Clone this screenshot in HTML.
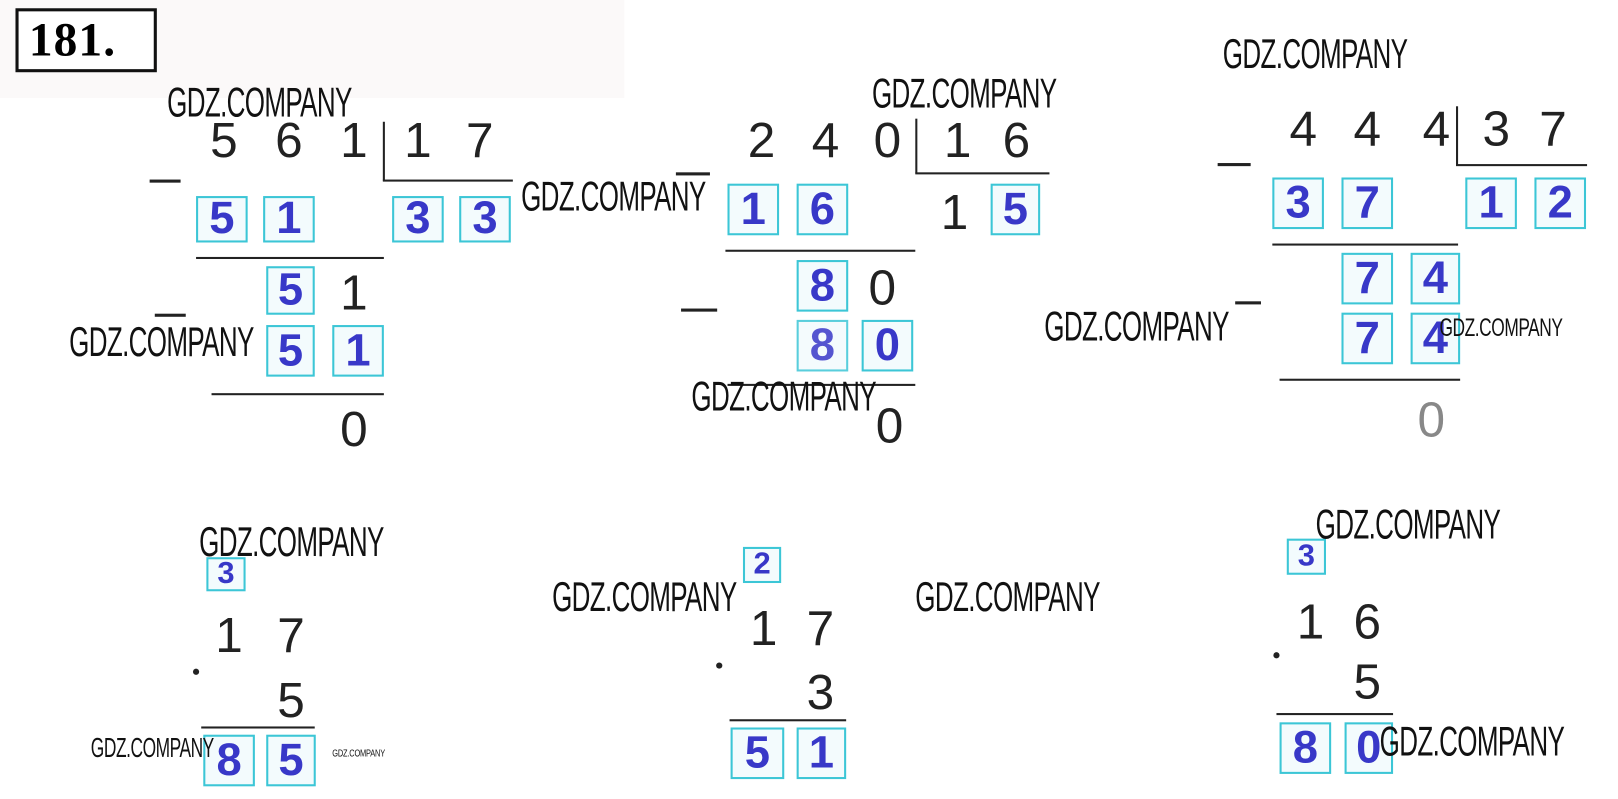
<!DOCTYPE html>
<html><head><meta charset="utf-8"><style>
html,body{margin:0;padding:0;background:#fff;overflow:hidden}
#w{position:absolute;left:0;top:0;width:1568px;height:774px;transform:scale(1.0319);transform-origin:0 0}
.a{position:absolute}
.d{position:absolute;font-family:"Liberation Sans",sans-serif;font-size:48px;color:#222;line-height:1;transform:translate(-50%,0)}
.b{position:absolute;box-sizing:border-box;border:2.5px solid #3cc6d6;background:#f3fbfd;font-family:"Liberation Sans",sans-serif;font-weight:bold;color:#3838c8;text-align:center}
.l{position:absolute;background:#222}
.g{position:absolute;font-family:"Liberation Sans",sans-serif;font-size:40px;color:#111;line-height:1;transform-origin:0 0;white-space:nowrap;letter-spacing:-1px}
</style></head><body><div id="w">
<div class="a" style="left:0;top:0;width:605px;height:95px;background:#fbf9f9"></div>
<div class="a" style="left:15px;top:8px;width:137px;height:62px;box-sizing:border-box;border:3px solid #111;background:#fff;font:bold 46px 'Liberation Serif',serif;line-height:56px;padding-left:10px;letter-spacing:1px">181.</div>

<!-- Division 1 -->
<div class="d" style="left:217px;top:113px">5</div><div class="d" style="left:280px;top:113px">6</div><div class="d" style="left:343px;top:113px">1</div>
<div class="l" style="left:371px;top:118px;width:2px;height:57px"></div><div class="l" style="left:371px;top:174px;width:126px;height:2px"></div>
<div class="d" style="left:405px;top:113px">1</div><div class="d" style="left:465px;top:113px">7</div>
<div class="l" style="left:145px;top:174px;width:30px;height:3px"></div>
<div class="b" style="left:190px;top:190px;width:50px;height:45px;font-size:44px;line-height:40px">5</div>
<div class="b" style="left:255px;top:190px;width:50px;height:45px;font-size:44px;line-height:40px">1</div>
<div class="b" style="left:380px;top:190px;width:50px;height:45px;font-size:44px;line-height:40px">3</div>
<div class="b" style="left:445px;top:190px;width:50px;height:45px;font-size:44px;line-height:40px">3</div>
<div class="l" style="left:190px;top:249px;width:182px;height:2px"></div>
<div class="b" style="left:258px;top:258px;width:47px;height:47px;font-size:44px;line-height:42px">5</div>
<div class="d" style="left:343px;top:261px">1</div>
<div class="l" style="left:150px;top:304px;width:30px;height:3px"></div>
<div class="b" style="left:258px;top:315px;width:47px;height:50px;font-size:44px;line-height:45px">5</div>
<div class="b" style="left:322px;top:315px;width:50px;height:50px;font-size:44px;line-height:45px">1</div>
<div class="l" style="left:205px;top:381px;width:167px;height:2px"></div>
<div class="d" style="left:343px;top:393px">0</div>

<!-- Division 2 -->
<div class="d" style="left:738px;top:113px">2</div><div class="d" style="left:800px;top:113px">4</div><div class="d" style="left:860px;top:113px">0</div>
<div class="l" style="left:887px;top:115px;width:2px;height:53px"></div><div class="l" style="left:887px;top:167px;width:130px;height:2px"></div>
<div class="d" style="left:928px;top:113px">1</div><div class="d" style="left:985px;top:113px">6</div>
<div class="l" style="left:655px;top:167px;width:33px;height:3px"></div>
<div class="b" style="left:705px;top:178px;width:50px;height:50px;font-size:44px;line-height:45px">1</div>
<div class="b" style="left:772px;top:178px;width:50px;height:50px;font-size:44px;line-height:45px">6</div>
<div class="d" style="left:925px;top:183px">1</div>
<div class="b" style="left:960px;top:178px;width:48px;height:50px;font-size:44px;line-height:45px">5</div>
<div class="l" style="left:703px;top:242px;width:184px;height:2px"></div>
<div class="b" style="left:772px;top:252px;width:50px;height:50px;font-size:44px;line-height:45px">8</div>
<div class="d" style="left:855px;top:256px">0</div>
<div class="l" style="left:660px;top:299px;width:35px;height:3px"></div>
<div class="b" style="left:772px;top:310px;width:50px;height:50px;font-size:44px;line-height:45px;opacity:.85">8</div>
<div class="b" style="left:835px;top:310px;width:50px;height:50px;font-size:44px;line-height:45px">0</div>
<div class="l" style="left:705px;top:372px;width:182px;height:2px"></div>
<div class="d" style="left:862px;top:390px">0</div>

<!-- Division 3 -->
<div class="d" style="left:1263px;top:102px">4</div><div class="d" style="left:1325px;top:102px">4</div><div class="d" style="left:1392px;top:102px">4</div>
<div class="l" style="left:1411px;top:103px;width:2px;height:57px"></div><div class="l" style="left:1411px;top:159px;width:127px;height:2px"></div>
<div class="d" style="left:1450px;top:102px">3</div><div class="d" style="left:1505px;top:102px">7</div>
<div class="l" style="left:1180px;top:158px;width:32px;height:3px"></div>
<div class="b" style="left:1233px;top:172px;width:50px;height:50px;font-size:44px;line-height:45px">3</div>
<div class="b" style="left:1300px;top:172px;width:50px;height:50px;font-size:44px;line-height:45px">7</div>
<div class="b" style="left:1420px;top:172px;width:50px;height:50px;font-size:44px;line-height:45px">1</div>
<div class="b" style="left:1487px;top:172px;width:50px;height:50px;font-size:44px;line-height:45px">2</div>
<div class="l" style="left:1233px;top:236px;width:180px;height:2px"></div>
<div class="b" style="left:1300px;top:245px;width:50px;height:50px;font-size:44px;line-height:45px">7</div>
<div class="b" style="left:1367px;top:245px;width:48px;height:50px;font-size:44px;line-height:45px">4</div>
<div class="l" style="left:1197px;top:292px;width:25px;height:3px"></div>
<div class="b" style="left:1300px;top:303px;width:50px;height:50px;font-size:44px;line-height:45px">7</div>
<div class="b" style="left:1367px;top:303px;width:48px;height:50px;font-size:44px;line-height:45px">4</div>
<div class="l" style="left:1240px;top:367px;width:175px;height:2px"></div>
<div class="d" style="left:1387px;top:384px;color:#888">0</div>

<!-- Mult 1 -->
<div class="b" style="left:200px;top:540px;width:38px;height:33px;font-size:30px;line-height:28px">3</div>
<div class="d" style="left:222px;top:593px">1</div><div class="d" style="left:282px;top:593px">7</div>
<div class="a" style="left:187px;top:648px;width:6px;height:6px;border-radius:50%;background:#222"></div>
<div class="d" style="left:282px;top:656px">5</div>
<div class="l" style="left:195px;top:704px;width:110px;height:2px"></div>
<div class="b" style="left:197px;top:712px;width:50px;height:50px;font-size:44px;line-height:45px">8</div>
<div class="b" style="left:258px;top:712px;width:48px;height:50px;font-size:44px;line-height:45px">5</div>

<!-- Mult 2 -->
<div class="b" style="left:720px;top:530px;width:37px;height:35px;font-size:30px;line-height:30px">2</div>
<div class="d" style="left:740px;top:586px">1</div><div class="d" style="left:795px;top:586px">7</div>
<div class="a" style="left:694px;top:642px;width:6px;height:6px;border-radius:50%;background:#222"></div>
<div class="d" style="left:795px;top:648px">3</div>
<div class="l" style="left:707px;top:697px;width:113px;height:2px"></div>
<div class="b" style="left:708px;top:705px;width:52px;height:50px;font-size:44px;line-height:45px">5</div>
<div class="b" style="left:772px;top:705px;width:48px;height:50px;font-size:44px;line-height:45px">1</div>

<!-- Mult 3 -->
<div class="b" style="left:1247px;top:522px;width:38px;height:35px;font-size:30px;line-height:30px">3</div>
<div class="d" style="left:1270px;top:580px">1</div><div class="d" style="left:1325px;top:580px">6</div>
<div class="a" style="left:1234px;top:632px;width:6px;height:6px;border-radius:50%;background:#222"></div>
<div class="d" style="left:1325px;top:638px">5</div>
<div class="l" style="left:1237px;top:691px;width:113px;height:2px"></div>
<div class="b" style="left:1240px;top:700px;width:50px;height:50px;font-size:44px;line-height:45px">8</div>
<div class="b" style="left:1303px;top:700px;width:47px;height:50px;font-size:44px;line-height:45px">0</div>

<!-- watermarks -->
<div class="g" style="left:162px;top:80px;transform:scaleX(.63)">GDZ.COMPANY</div>
<div class="g" style="left:845px;top:71px;transform:scaleX(.63)">GDZ.COMPANY</div>
<div class="g" style="left:1185px;top:33px;transform:scaleX(.63)">GDZ.COMPANY</div>
<div class="g" style="left:505px;top:171px;transform:scaleX(.63)">GDZ.COMPANY</div>
<div class="g" style="left:67px;top:312px;transform:scaleX(.63)">GDZ.COMPANY</div>
<div class="g" style="left:1012px;top:297px;transform:scaleX(.63)">GDZ.COMPANY</div>
<div class="g" style="left:670px;top:365px;transform:scaleX(.63)">GDZ.COMPANY</div>
<div class="g" style="left:1395px;top:306px;transform:scale(.42,.6)">GDZ.COMPANY</div>
<div class="g" style="left:193px;top:506px;transform:scaleX(.63)">GDZ.COMPANY</div>
<div class="g" style="left:535px;top:559px;transform:scaleX(.63)">GDZ.COMPANY</div>
<div class="g" style="left:887px;top:559px;transform:scaleX(.63)">GDZ.COMPANY</div>
<div class="g" style="left:1275px;top:489px;transform:scaleX(.63)">GDZ.COMPANY</div>
<div class="g" style="left:1337px;top:699px;transform:scaleX(.63)">GDZ.COMPANY</div>
<div class="g" style="left:88px;top:711px;transform:scale(.42,.68)">GDZ.COMPANY</div>
<div class="g" style="left:322px;top:725px;transform:scale(.18,.25)">GDZ.COMPANY</div>
</div></body></html>
